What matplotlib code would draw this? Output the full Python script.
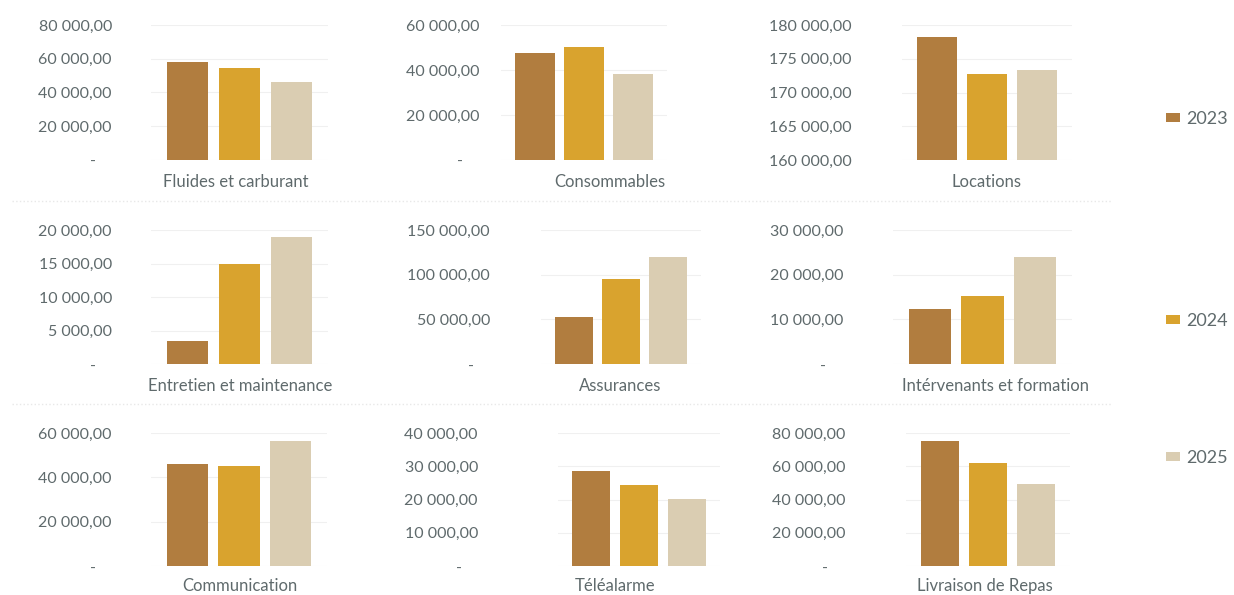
import matplotlib
matplotlib.use('Agg')
import matplotlib.pyplot as plt
from matplotlib.lines import Line2D

plt.rcParams['font.family'] = ['Lato', 'DejaVu Sans']

# Données
annees = ['2023', '2024', '2025']
categories = ['Fluides et carburant', 'Consommables', 'Locations',
              'Entretien et maintenance', 'Assurances', 'Intérvenants et formation',
              'Communication', 'Téléalarme', 'Livraison de Repas']
fluides = [58100, 54500, 46300]
consommables = [47400, 50400, 38200]
locations = [178200, 172800, 173300]
entretien = [3400, 15000, 18900]
assurances = [52200, 95100, 119900]
intervenants = [12300, 15300, 24000]
communication = [46000, 45200, 56500]
telealarme = [28600, 24400, 20100]
livraison = [75000, 62000, 49500]
valeurs = [fluides, consommables, locations, entretien, assurances,
           intervenants, communication, telealarme, livraison]

# Echelles des axes (min, max, pas)
echelles = [(0, 80000, 20000), (0, 60000, 20000), (160000, 180000, 5000),
            (0, 20000, 5000), (0, 150000, 50000), (0, 30000, 10000),
            (0, 60000, 20000), (0, 40000, 10000), (0, 80000, 20000)]

couleurs = ['#b17d3f', '#d9a32e', '#dacdb2']
gris = '#5f6a6c'

# Mise en page (pixels)
W, H = 1234, 595
lignes = [(25, 160, 182), (230, 364, 386), (433, 566, 586)]   # haut, zéro, libellé
centres = [239.5, 584, 987, 239.5, 621, 982.5, 239, 639, 988]
pas = [52, 49, 50, 52, 47, 52.7, 51.5, 47.7, 48]
bord_ticks = [112, 480, 852, 112, 490, 843, 112, 478, 845]
x_libelles = [236, 610, 987, 240, 620, 995, 240, 615, 985]


def format_euro(v, pos=None):
    if v == 0:
        return '-    '
    return f'{v:,.2f}'.replace(',', ' ').replace('.', ',')


fig = plt.figure(figsize=(W / 100, H / 100), dpi=100)
barres = None
for i, vals in enumerate(valeurs):
    haut, zero, y_lib = lignes[i // 3]
    s = pas[i]
    gauche = centres[i] - 1.7 * s
    largeur = 3.4 * s
    ax = fig.add_axes([gauche / W, 1 - zero / H, largeur / W, (zero - haut) / H])
    b = ax.bar(range(3), vals, width=0.8, color=couleurs, zorder=3)
    if barres is None:
        barres = b
    ax.set_xlim(-0.7, 2.7)
    ymin, ymax, step = echelles[i]
    ax.set_ylim(ymin, ymax)
    ax.set_yticks(range(ymin, ymax + 1, step))
    ax.yaxis.set_major_formatter(plt.FuncFormatter(format_euro))
    ax.set_xticks([])
    ax.grid(axis='y', color='#f0f0f0', linewidth=0.8, zorder=0)
    for sp in ax.spines.values():
        sp.set_visible(False)
    pad_pts = (gauche - bord_ticks[i]) * 72 / 100
    ax.tick_params(axis='y', length=0, pad=pad_pts, labelsize=11.5, labelcolor=gris)
    fig.text(x_libelles[i] / W, 1 - y_lib / H, categories[i], ha='center', va='center',
             fontsize=12, color=gris)

# Séparateurs légers entre les lignes
for y in [201, 404]:
    fig.add_artist(Line2D([0.01, 0.9], [1 - y / H, 1 - y / H], color='#e8e8e8',
                          linewidth=1, linestyle=':'))

# Légende
for j, y in enumerate([119, 321, 458]):
    fig.legend([barres.patches[j]], [annees[j]], loc='center left',
               bbox_to_anchor=(1166 / W, 1 - y / H), frameon=False,
               borderaxespad=0, borderpad=0,
               handlelength=0.75, handleheight=0.45, handletextpad=0.35,
               fontsize=13, labelcolor=gris)

fig.savefig('out.png', dpi=100)
